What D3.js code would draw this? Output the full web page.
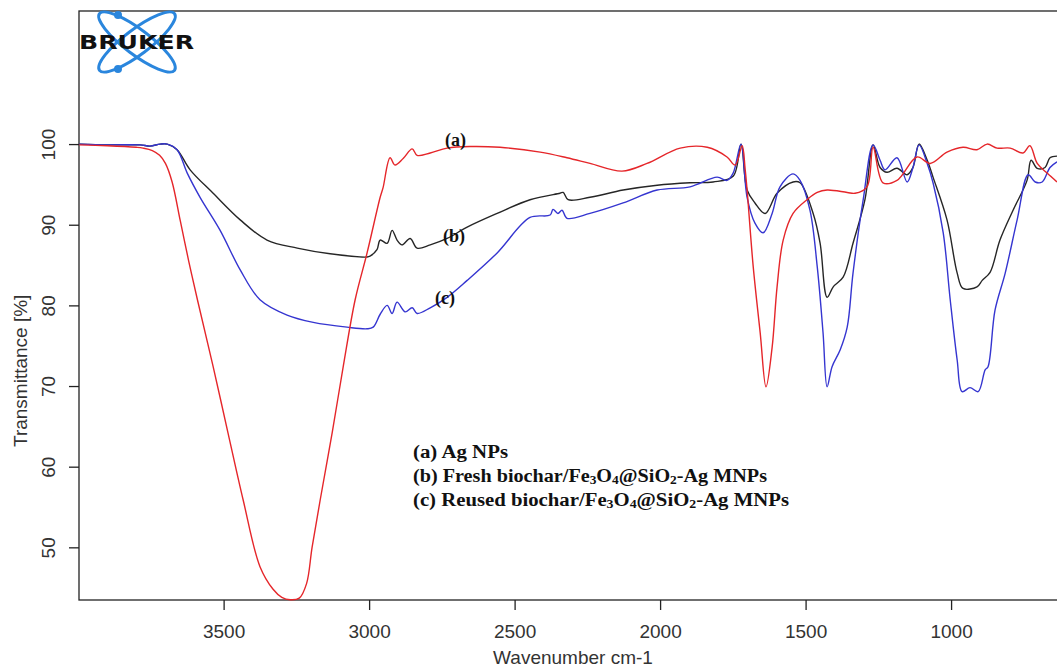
<!DOCTYPE html>
<html>
<head>
<meta charset="utf-8">
<script src="https://cdn.jsdelivr.net/npm/d3@7"></script>
<style>
  body { margin: 0; background: #fff; }
  .tick-label { font-family: "Liberation Sans", Arial, sans-serif; font-size: 19px; fill: #333; }
  .serif-b { font-family: "Liberation Serif", "Times New Roman", serif; font-weight: bold; fill: #111; }
</style>
</head>
<body>
<svg id="chart" width="1057" height="668"></svg>
<script>
// (a) Ag NPs
var wnA = [3996,3900,3800,3777,3745,3720,3700,3677,3649,3620,3590,3536,3485,3433,3375,3330,3300,3271,3240,3215,3196,3168,3127,3089,3048,3007,2962,2952,2928,2911,2883,2852,2835,2790,2732,2653,2550,2412,2320,2241,2131,2045,1931,1838,1770,1742,1718,1708,1701,1680,1656,1636,1615,1598,1577,1543,1495,1460,1426,1357,1330,1289,1268,1234,1186,1117,1072,1014,959,911,876,842,797,753,729,704,670,636];
var tA  = [99.9,99.8,99.6,99.5,99.2,98.6,97.6,95.3,90.5,85.5,80.7,72.4,64.2,55.9,47.6,44.8,43.8,43.5,43.7,45.5,50.0,55.9,64.2,72.4,80.7,86.5,93.4,94.6,98.3,97.4,98.2,99.4,98.6,98.9,99.5,99.7,99.6,99.0,98.3,97.6,96.65,97.6,99.5,99.6,98.4,97.4,99.8,97.0,94.3,84.8,76.6,69.9,74.8,82.3,88.1,91.4,93.1,94.0,94.3,94.0,93.9,94.7,99.6,95.2,95.5,98.4,97.6,99.0,99.6,99.3,100,99.5,99.5,98.9,99.8,97.6,96.4,95.3];

// (b) fresh biochar/Fe3O4@SiO2-Ag MNPs
var wnB = [3996,3900,3787,3753,3718,3694,3660,3615,3536,3443,3351,3247,3134,3007,2997,2973,2962,2938,2921,2904,2887,2859,2835,2790,2732,2663,2560,2447,2344,2333,2316,2241,2127,2010,1897,1818,1749,1722,1701,1674,1639,1598,1543,1519,1474,1450,1426,1405,1371,1337,1296,1268,1244,1220,1186,1151,1131,1110,1082,1062,1014,979,959,911,893,866,832,787,739,725,704,677,660,636];
var tB  = [100,99.9,99.9,99.75,100,100,99.3,96.8,93.9,90.6,88.1,87.1,86.4,86.0,86.1,86.9,88.1,87.7,89.3,88.1,87.5,88.3,87.1,87.5,88.3,89.7,91.4,93.1,93.9,94.0,93.1,93.4,94.3,94.9,95.2,95.3,96.0,100,94.3,92.7,91.4,93.9,95.3,95.2,91.4,87.7,81.0,82.3,83.5,87.7,93.1,99.9,97.1,96.5,97.0,96.2,97.1,100,98.0,95.9,90.6,84.0,82.1,82.3,83.1,84.1,88.1,91.8,95.5,98.0,97.0,97.1,98.3,98.5];

// (c) reused biochar/Fe3O4@SiO2-Ag MNPs
var wnC = [3996,3900,3787,3753,3718,3694,3660,3625,3581,3512,3443,3375,3282,3192,3076,3007,2986,2962,2938,2921,2904,2876,2852,2835,2790,2732,2663,2560,2447,2378,2368,2351,2337,2320,2241,2127,2010,1897,1804,1770,1749,1722,1701,1674,1646,1615,1588,1543,1519,1485,1460,1440,1426,1409,1381,1357,1337,1302,1268,1244,1227,1186,1151,1131,1110,1082,1062,1027,1003,979,962,935,907,883,873,849,814,773,735,711,687,660,636];
var tC  = [100,99.9,99.9,99.75,100,100,99.3,96.4,93.4,89.3,84.4,80.7,78.8,77.9,77.3,77.1,77.3,78.9,80.0,79.0,80.4,79.2,79.7,79.0,79.7,81.0,83.1,86.5,90.9,91.2,91.9,91.4,91.8,90.8,91.4,92.7,94.3,94.7,95.9,95.5,96.4,100,93.4,90.2,89.0,91.4,94.7,96.3,95.5,91.8,84.8,76.6,69.9,72.4,74.5,77.3,84.0,93.1,99.9,98.0,96.8,98.3,95.3,97.1,99.9,97.6,95.2,89.0,80.7,73.2,69.3,69.8,69.3,72.0,72.4,79.4,84.0,90.6,96.2,95.3,95.3,97.1,97.8];

var xTicks = [3500, 3000, 2500, 2000, 1500, 1000];
var yTicks = [50, 60, 70, 80, 90, 100];

var series = [
  { name: 'b', wn: wnB, t: tB, color: '#262626' },
  { name: 'c', wn: wnC, t: tC, color: '#3535d0' },
  { name: 'a', wn: wnA, t: tA, color: '#e5262a' }
];

var svg = d3.select('#chart');
var plot = { l: 79, t: 11, r: 1057, b: 600 };

var x = d3.scaleLinear().domain([3997, 636]).range([plot.l, plot.r]);
var y = d3.scaleLinear().domain([43.47, 116.5]).range([plot.b, plot.t]);

// frame (right side runs off the picture)
svg.append('rect')
    .attr('x', plot.l)
    .attr('y', plot.t)
    .attr('width', plot.r - plot.l + 20)
    .attr('height', plot.b - plot.t)
    .attr('fill', 'none')
    .attr('stroke', '#222')
    .attr('stroke-width', 1.3);

// x axis
var xAxis = svg.append('g')
    .attr('transform', 'translate(0,' + plot.b + ')')
    .call(d3.axisBottom(x).tickValues(xTicks).tickSize(10).tickPadding(12).tickFormat(d3.format('d')));
xAxis.select('.domain').remove();
xAxis.selectAll('line').attr('stroke', '#222').attr('stroke-width', 1.3);
xAxis.selectAll('text').attr('class', 'tick-label').attr('fill', null).attr('dy', null).attr('y', 38);

// y axis, labels turned like the R plot
var yAxis = svg.append('g')
    .attr('transform', 'translate(' + plot.l + ',0)')
    .call(d3.axisLeft(y).tickValues(yTicks).tickSize(10).tickFormat(d3.format('d')));
yAxis.select('.domain').remove();
yAxis.selectAll('line').attr('stroke', '#222').attr('stroke-width', 1.3);
yAxis.selectAll('text').remove();
yAxis.selectAll('.tick').append('text')
    .attr('class', 'tick-label')
    .attr('transform', 'translate(-24,0) rotate(-90)')
    .attr('text-anchor', 'middle')
    .text(function (d) { return d; });

svg.append('text')
    .attr('class', 'tick-label')
    .attr('x', 573)
    .attr('y', 664)
    .attr('text-anchor', 'middle')
    .text('Wavenumber cm-1');

svg.append('text')
    .attr('class', 'tick-label')
    .attr('transform', 'translate(27,447) rotate(-90)')
    .attr('text-anchor', 'start')
    .text('Transmittance [%]');

// spectra
var line = d3.line()
    .x(function (d) { return x(d[0]); })
    .y(function (d) { return y(d[1]); })
    .curve(d3.curveCatmullRom.alpha(0.5));

svg.append('g').selectAll('path')
    .data(series)
    .enter()
    .append('path')
    .attr('d', function (s) { return line(s.wn.map(function (w, i) { return [w, s.t[i]]; })); })
    .attr('fill', 'none')
    .attr('stroke', function (s) { return s.color; })
    .attr('stroke-width', 1.4)
    .attr('stroke-linejoin', 'round');

// curve tags
var tags = [
  { txt: '(a)', x: 445, y: 146 },
  { txt: '(b)', x: 443, y: 242 },
  { txt: '(c)', x: 435, y: 304 }
];
tags.forEach(function (d) {
    svg.append('text')
        .attr('class', 'serif-b')
        .attr('x', d.x)
        .attr('y', d.y)
        .style('font-size', '18px')
        .text(d.txt);
});

// legend block
var legend = [
  { parts: [['(a) Ag NPs', 0]], y: 458, len: 95 },
  { parts: [['(b) Fresh biochar/Fe', 0], ['3', 1], ['O', 0], ['4', 1], ['@SiO', 0], ['2', 1], ['-Ag MNPs', 0]], y: 482, len: 354 },
  { parts: [['(c) Reused biochar/Fe', 0], ['3', 1], ['O', 0], ['4', 1], ['@SiO', 0], ['2', 1], ['-Ag MNPs', 0]], y: 506, len: 376 }
];
legend.forEach(function (row) {
    var t = svg.append('text')
        .attr('class', 'serif-b')
        .attr('x', 413)
        .attr('y', row.y)
        .attr('textLength', row.len)
        .attr('lengthAdjust', 'spacingAndGlyphs')
        .style('font-size', '18px');
    row.parts.forEach(function (p) {
        var ts = t.append('tspan').text(p[0]);
        if (p[1]) ts.attr('dy', 2).style('font-size', '12px');
        else if (t.selectAll('tspan').size() > 1) ts.attr('dy', -2);
    });
});

// BRUKER logo
var logo = svg.append('g');
[37, -37].forEach(function (a) {
    logo.append('ellipse')
        .attr('transform', 'translate(137,42) rotate(' + a + ')')
        .attr('rx', 47)
        .attr('ry', 12.5)
        .attr('fill', 'none')
        .attr('stroke', '#2a86dd')
        .attr('stroke-width', 3);
});
[15, 69].forEach(function (cy) {
    logo.append('circle').attr('cx', 118).attr('cy', cy).attr('r', 4).attr('fill', '#2a86dd');
});
logo.append('text')
    .attr('x', 79)
    .attr('y', 49)
    .attr('textLength', 115)
    .attr('lengthAdjust', 'spacingAndGlyphs')
    .style('font-family', '"DejaVu Sans", sans-serif')
    .style('font-weight', 'bold')
    .style('font-size', '19px')
    .style('fill', '#111')
    .text('BRUKER');
</script>
</body>
</html>
